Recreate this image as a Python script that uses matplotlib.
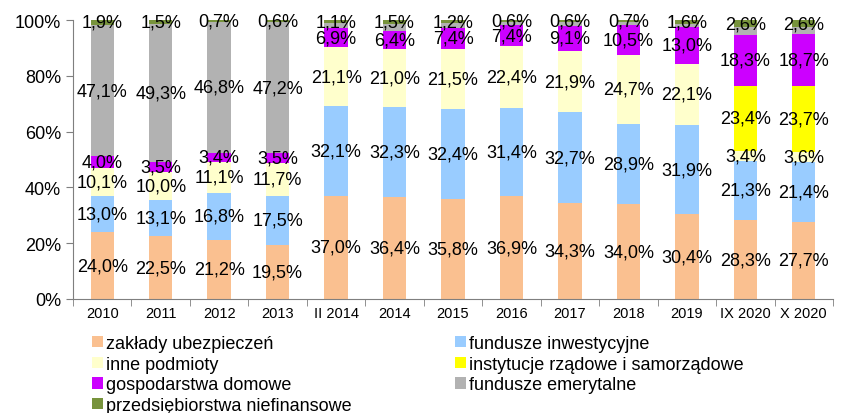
import numpy as np
import matplotlib.pyplot as plt
from matplotlib.ticker import FixedLocator, PercentFormatter

plt.rcParams['font.family'] = ['Liberation Sans', 'DejaVu Sans']

categories = ['2010', '2011', '2012', '2013', 'II 2014', '2014', '2015', '2016',
              '2017', '2018', '2019', 'IX 2020', 'X 2020']

zaklady = [24.0, 22.5, 21.2, 19.5, 37.0, 36.4, 35.8, 36.9, 34.3, 34.0, 30.4, 28.3, 27.7]
fundusze_inw = [13.0, 13.1, 16.8, 17.5, 32.1, 32.3, 32.4, 31.4, 32.7, 28.9, 31.9, 21.3, 21.4]
inne = [10.1, 10.0, 11.1, 11.7, 21.1, 21.0, 21.5, 22.4, 21.9, 24.7, 22.1, 3.4, 3.6]
instytucje = [0, 0, 0, 0, 0, 0, 0, 0, 0, 0, 0, 23.4, 23.7]
gospodarstwa = [4.0, 3.5, 3.4, 3.5, 6.9, 6.4, 7.4, 7.4, 9.1, 10.5, 13.0, 18.3, 18.7]
# fundusze emerytalne: labelled only 2010-2013, rest estimated from the bars
emerytalne = [47.1, 49.3, 46.8, 47.2, 1.8, 2.4, 1.7, 1.3, 1.4, 1.2, 1.0, 2.7, 2.3]
emerytalne_shown = [True] * 4 + [False] * 9
przedsiebiorstwa = [1.9, 1.5, 0.7, 0.6, 1.1, 1.5, 1.2, 0.6, 0.6, 0.7, 1.6, 2.6, 2.6]

series = [
    ('zakłady ubezpieczeń', zaklady, '#FAC090'),
    ('fundusze inwestycyjne', fundusze_inw, '#99CCFF'),
    ('inne podmioty', inne, '#FFFFCC'),
    ('instytucje rządowe i samorządowe', instytucje, '#FFFF00'),
    ('gospodarstwa domowe', gospodarstwa, '#CC00FF'),
    ('fundusze emerytalne', emerytalne, '#B2B2B2'),
    ('przedsiębiorstwa niefinansowe', przedsiebiorstwa, '#77933C'),
]

fig = plt.figure(figsize=(8.49, 4.14), dpi=100)
ax = fig.add_axes([73 / 849, 1 - 300 / 414, 760 / 849, 279 / 414])

x = np.arange(len(categories))
bottom = np.zeros(len(categories))
handles = {}
for name, vals, color in series:
    vals = np.array(vals, dtype=float)
    bars = ax.bar(x, vals, 0.4, bottom=bottom, color=color, label=name, linewidth=0)
    handles[name] = bars
    for i, v in enumerate(vals):
        if v <= 0:
            continue
        if name == 'fundusze emerytalne' and not emerytalne_shown[i]:
            continue
        txt = f'{v:.1f}%'.replace('.', ',')
        ax.text(x[i], bottom[i] + v / 2, txt, ha='center', va='center',
                fontsize=13, color='black')
    bottom += vals

ax.set_xlim(-0.5, len(categories) - 0.5)
ax.set_ylim(0, 100)
ax.yaxis.set_major_locator(FixedLocator([0, 20, 40, 60, 80, 100]))
ax.yaxis.set_major_formatter(PercentFormatter(decimals=0))
ax.set_xticks(x)
ax.set_xticklabels(categories, fontsize=10.5)
ax.xaxis.set_minor_locator(FixedLocator(np.arange(-0.5, len(categories), 1)))
ax.tick_params(axis='x', which='major', length=0, pad=5)
ax.tick_params(axis='x', which='minor', length=5, color='#7f7f7f')
ax.tick_params(axis='y', labelsize=13, length=5, color='#7f7f7f')
for s in ['top', 'right']:
    ax.spines[s].set_visible(False)
for s in ['left', 'bottom']:
    ax.spines[s].set_color('#7f7f7f')

# legend is filled column by column, so list the left column first
order = ['zakłady ubezpieczeń', 'inne podmioty', 'gospodarstwa domowe',
         'przedsiębiorstwa niefinansowe', 'fundusze inwestycyjne',
         'instytucje rządowe i samorządowe', 'fundusze emerytalne']
fig.legend([handles[n] for n in order], order, loc='upper left',
           bbox_to_anchor=(92 / 849, 1 - 336 / 414), ncol=2, frameon=False,
           fontsize=13, handlelength=0.6, handleheight=0.6, handletextpad=0.15,
           labelspacing=0.2, columnspacing=5.75, borderpad=0, borderaxespad=0)

fig.savefig('out.png', dpi=100)
